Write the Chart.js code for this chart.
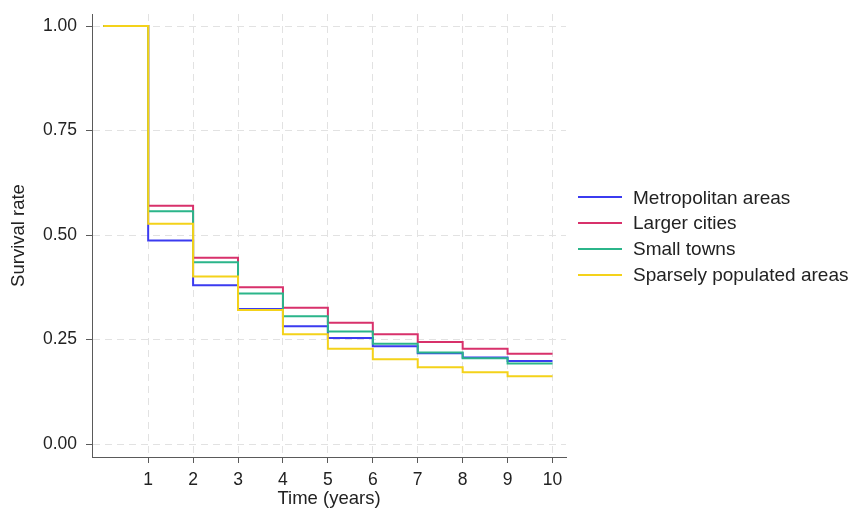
<!DOCTYPE html>
<html>
<head>
<meta charset="utf-8">
<script src="https://cdn.jsdelivr.net/npm/chart.js@4.4.1/dist/chart.umd.min.js"></script>
<style>
  html, body { margin: 0; padding: 0; background: #fff; }
  #wrap { width: 849px; height: 513px; position: relative; }
</style>
</head>
<body>
<div id="wrap"><canvas id="c" width="849" height="513"></canvas></div>
<script>
// ---- Data ----
const timeYears = [0, 1, 2, 3, 4, 5, 6, 7, 8, 9, 10];
const metropolitanAreas = [1.00, 0.487, 0.380, 0.323, 0.282, 0.254, 0.234, 0.217, 0.207, 0.199, 0.199];
const largerCities      = [1.00, 0.570, 0.446, 0.375, 0.326, 0.290, 0.263, 0.244, 0.228, 0.216, 0.216];
const smallTowns        = [1.00, 0.557, 0.435, 0.360, 0.306, 0.269, 0.240, 0.219, 0.205, 0.193, 0.193];
const sparselyPopulated = [1.00, 0.527, 0.401, 0.321, 0.263, 0.228, 0.203, 0.184, 0.172, 0.162, 0.162];
const seriesNames = ["Metropolitan areas", "Larger cities", "Small towns", "Sparsely populated areas"];
const xTickValues = [1, 2, 3, 4, 5, 6, 7, 8, 9, 10];
const yTickValues = [0, 0.25, 0.5, 0.75, 1.0];

// ---- Styles ----
const colors = ["#3b3bf0", "#d8316b", "#2bb58a", "#f4d21a"];
const drawOrder = [3, 2, 1, 0]; // higher drawn first -> sparsely on top
const FONT = "'Liberation Sans', Arial, sans-serif";
const AXIS = "#5a5a5a";
const GRID = "#e2e2e2";
const TEXT = "#222";

function pts(vals) { return timeYears.map((t, i) => ({ x: t, y: vals[i] })); }
const allSeries = [metropolitanAreas, largerCities, smallTowns, sparselyPopulated];

const datasets = allSeries.map((vals, i) => ({
  label: seriesNames[i],
  data: pts(vals),
  borderColor: colors[i],
  backgroundColor: colors[i],
  borderWidth: 2,
  stepped: true,
  pointRadius: 0,
  fill: false,
  order: drawOrder[i]
}));

// Side legend drawn from the chart's own dataset labels/colours,
// placed in the space reserved on the right of the chart area.
const sideLegend = {
  id: 'sideLegend',
  afterDraw(chart) {
    const { ctx, chartArea } = chart;
    const rowH = 25.8;
    const n = chart.data.datasets.length;
    const cy = (chartArea.top + chartArea.bottom) / 2 + 0.5;
    const x0 = chartArea.right + 12;
    const lineLen = 44;
    const textX = x0 + 55;
    ctx.save();
    ctx.font = "19px " + FONT;
    ctx.fillStyle = TEXT;
    ctx.textBaseline = 'middle';
    ctx.textAlign = 'left';
    chart.data.datasets.forEach((ds, i) => {
      const y = cy + (i - (n - 1) / 2) * rowH;
      ctx.strokeStyle = ds.borderColor;
      ctx.lineWidth = 2;
      ctx.beginPath();
      ctx.moveTo(x0, Math.round(y));
      ctx.lineTo(x0 + lineLen, Math.round(y));
      ctx.stroke();
      ctx.fillText(ds.label, textX, y + 1);
    });
    ctx.restore();
  }
};

new Chart(document.getElementById('c'), {
  type: 'line',
  data: { datasets },
  plugins: [sideLegend],
  options: {
    responsive: false,
    animation: false,
    layout: { padding: { top: 14, left: 0, bottom: 0, right: 283 } },
    plugins: {
      tooltip: { enabled: false },
      legend: { display: false }
    },
    scales: {
      x: {
        type: 'linear',
        min: -0.25,
        max: 10.3,
        afterBuildTicks: (s) => { s.ticks = xTickValues.map(v => ({ value: v })); },
        afterFit: (s) => { s.height = 56; },
        ticks: {
          font: { family: FONT, size: 17.5 },
          color: TEXT,
          padding: 7,
          maxRotation: 0,
          callback: (v) => String(v)
        },
        grid: {
          color: GRID,
          tickColor: AXIS,
          tickLength: 6,
          tickBorderDash: [],
          lineWidth: 1
        },
        border: { display: true, color: AXIS, width: 1, dash: [7, 5] },
        title: {
          display: true,
          text: 'Time (years)',
          font: { family: FONT, size: 18.5 },
          color: TEXT,
          padding: { top: 0, bottom: 3 }
        }
      },
      y: {
        type: 'linear',
        min: -0.031,
        max: 1.029,
        afterBuildTicks: (s) => { s.ticks = yTickValues.map(v => ({ value: v })); },
        afterFit: (s) => { s.width = 92; s.paddingTop = 0; s.paddingBottom = 0; },
        ticks: {
          font: { family: FONT, size: 17.5 },
          color: TEXT,
          padding: 9,
          callback: (v) => Number(v).toFixed(2)
        },
        grid: {
          color: GRID,
          tickColor: AXIS,
          tickLength: 6,
          tickBorderDash: [],
          lineWidth: 1
        },
        border: { display: true, color: AXIS, width: 1, dash: [7, 5] },
        title: {
          display: true,
          text: 'Survival rate',
          font: { family: FONT, size: 18.5 },
          color: TEXT,
          padding: { top: 8, bottom: 0 }
        }
      }
    }
  }
});
</script>
</body>
</html>
